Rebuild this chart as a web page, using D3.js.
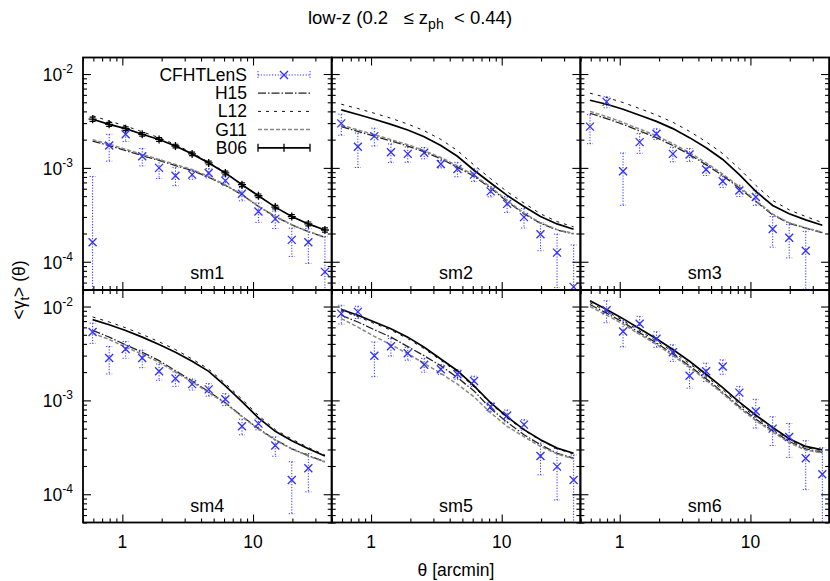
<!DOCTYPE html>
<html>
<head>
<meta charset="utf-8">
<title>low-z tangential shear</title>
<script src="https://cdn.jsdelivr.net/npm/d3@7"></script>
<style>
	html, body { margin: 0; padding: 0; background: white; }
	svg text { font-family: 'Liberation Sans', Arial, sans-serif; fill: black; white-space: pre; }
</style>
</head>
<body>
<svg id="chart" width="830" height="581"></svg>
<script>

// angular bins (arcmin)
var theta = [0.592, 0.793, 1.06, 1.42, 1.91, 2.55, 3.42, 4.58, 6.14, 8.23, 11.0, 14.8, 19.8, 26.5, 35.5];

var panelNames = ["sm1", "sm2", "sm3", "sm4", "sm5", "sm6"];
var xTickVals = [1, 10];
var yTickVals = [1e-2, 1e-3, 1e-4];
var yTickExp = ["-2", "-3", "-4"];

// CFHTLenS measurements and errors
var cfhtVal = [
	[1.61e-4, 1.73e-3, 2.28e-3, 1.33e-3, 1.00e-3, 8.26e-4, 8.47e-4, 8.83e-4, 7.31e-4, 5.31e-4, 3.43e-4, 2.86e-4, 1.71e-4, 1.61e-4, 7.8e-5],
	[2.98e-3, 1.68e-3, 2.18e-3, 1.47e-3, 1.41e-3, 1.45e-3, 1.10e-3, 9.75e-4, 8.47e-4, 5.62e-4, 4.14e-4, 2.99e-4, 1.96e-4, 1.25e-4, 5.4e-5],
	[2.75e-3, 5.05e-3, 9.2e-4, 1.88e-3, 2.31e-3, 1.41e-3, 1.39e-3, 9.6e-4, 7.2e-4, 5.75e-4, 4.89e-4, 2.23e-4, 1.80e-4, 1.31e-4, null],
	[5.35e-3, 2.83e-3, 3.53e-3, 2.83e-3, 2.04e-3, 1.71e-3, 1.49e-3, 1.31e-3, 1.03e-3, 5.30e-4, 5.66e-4, 3.31e-4, 1.42e-4, 1.89e-4, null],
	[8.41e-3, 8.77e-3, 2.99e-3, 3.77e-3, 3.18e-3, 2.40e-3, 2.15e-3, 1.90e-3, 1.61e-3, 8.55e-4, 6.90e-4, 5.52e-4, 2.56e-4, 1.97e-4, 1.42e-4],
	[null, 9.12e-3, 5.42e-3, 6.56e-3, 4.53e-3, 3.26e-3, 1.83e-3, 2.04e-3, 2.30e-3, 1.21e-3, 7.67e-4, 5.0e-4, 4.07e-4, 2.42e-4, 1.63e-4]
];
var cfhtErr = [
	[6.5e-4, 5.5e-4, 3.7e-4, 2.8e-4, 2.3e-4, 1.8e-4, 0.9e-4, 1.0e-4, 0.8e-4, 0.85e-4, 0.8e-4, 0.6e-4, 0.57e-4, 0.65e-4, 1.07e-4],
	[7.5e-4, 6.7e-4, 4.7e-4, 3.3e-4, 2.6e-4, 2.0e-4, 1.0e-4, 1.7e-4, 1.3e-4, 0.7e-4, 0.8e-4, 0.7e-4, 0.65e-4, 0.72e-4, 0.97e-4],
	[9.4e-4, 6.8e-4, 5.2e-4, 4.5e-4, 3.0e-4, 2.5e-4, 2.2e-4, 1.3e-4, 1.0e-4, 0.8e-4, 0.9e-4, 0.8e-4, 0.7e-4, 0.8e-4, null],
	[1.3e-3, 9.2e-4, 7.2e-4, 6.0e-4, 4.0e-4, 3.0e-4, 2.0e-4, 2.0e-4, 1.5e-4, 1.0e-4, 0.8e-4, 0.77e-4, 0.8e-4, 0.83e-4, null],
	[1.9e-3, 1.3e-3, 1.2e-3, 8.0e-4, 5.0e-4, 4.0e-4, 2.5e-4, 2.2e-4, 2.0e-4, 1.0e-4, 1.0e-4, 0.7e-4, 0.95e-4, 1.1e-4, 1.2e-4],
	[null, 2.4e-3, 1.7e-3, 1.3e-3, 8.5e-4, 6.5e-4, 4.8e-4, 4.5e-4, 4.0e-4, 2.0e-4, 2.6e-4, 1.7e-4, 1.6e-4, 1.3e-4, 1.5e-4]
];

// models
var b06 = [
	[3.30e-3, 2.91e-3, 2.62e-3, 2.28e-3, 2.01e-3, 1.71e-3, 1.41e-3, 1.13e-3, 8.84e-4, 6.62e-4, 5.05e-4, 3.82e-4, 3.03e-4, 2.53e-4, 2.18e-4],
	[4.15e-3, 3.70e-3, 3.30e-3, 2.91e-3, 2.53e-3, 2.15e-3, 1.73e-3, 1.33e-3, 9.44e-4, 6.91e-4, 5.09e-4, 3.88e-4, 3.03e-4, 2.53e-4, 2.22e-4],
	[5.26e-3, 4.77e-3, 4.22e-3, 3.64e-3, 3.13e-3, 2.62e-3, 2.10e-3, 1.64e-3, 1.23e-3, 8.47e-4, 5.62e-4, 3.98e-4, 3.24e-4, 2.79e-4, 2.45e-4],
	[7.25e-3, 6.40e-3, 5.56e-3, 4.72e-3, 3.93e-3, 3.26e-3, 2.61e-3, 2.04e-3, 1.43e-3, 9.68e-4, 6.52e-4, 4.68e-4, 3.72e-4, 3.05e-4, 2.56e-4],
	[9.29e-3, 8.07e-3, 6.84e-3, 5.80e-3, 4.72e-3, 3.68e-3, 2.76e-3, 2.07e-3, 1.43e-3, 9.44e-4, 6.67e-4, 4.88e-4, 3.81e-4, 3.10e-4, 2.73e-4],
	[1.15e-2, 9.29e-3, 7.43e-3, 5.80e-3, 4.53e-3, 3.48e-3, 2.61e-3, 1.90e-3, 1.37e-3, 9.59e-4, 6.95e-4, 5.16e-4, 3.90e-4, 3.23e-4, 2.97e-4]
];
// B06 errors, only plotted in sm1
var b06Err = [1.7e-4, 1.4e-4, 1.2e-4, 1.0e-4, 0.9e-4, 0.75e-4, 0.6e-4, 0.5e-4, 0.4e-4, 0.3e-4, 0.22e-4, 0.17e-4, 0.14e-4, 0.12e-4, 0.11e-4];

var l12 = [
	[3.60e-3, 3.15e-3, 2.80e-3, 2.42e-3, 2.10e-3, 1.77e-3, 1.45e-3, 1.15e-3, 8.95e-4, 6.65e-4, 5.05e-4, 3.82e-4, 3.03e-4, 2.52e-4, 2.17e-4],
	[4.77e-3, 4.29e-3, 3.82e-3, 3.38e-3, 2.93e-3, 2.49e-3, 2.01e-3, 1.53e-3, 1.07e-3, 7.67e-4, 5.57e-4, 4.22e-4, 3.24e-4, 2.68e-4, 2.35e-4],
	[6.25e-3, 5.62e-3, 4.97e-3, 4.29e-3, 3.66e-3, 3.06e-3, 2.45e-3, 1.90e-3, 1.42e-3, 9.82e-4, 6.52e-4, 4.50e-4, 3.57e-4, 3.03e-4, 2.61e-4],
	[7.75e-3, 6.84e-3, 5.94e-3, 5.05e-3, 4.21e-3, 3.48e-3, 2.76e-3, 2.15e-3, 1.51e-3, 1.03e-3, 6.90e-4, 4.88e-4, 3.87e-4, 3.15e-4, 2.62e-4],
	[9.0e-3, 7.8e-3, 6.6e-3, 5.6e-3, 4.55e-3, 3.55e-3, 2.67e-3, 2.0e-3, 1.39e-3, 9.2e-4, 6.5e-4, 4.8e-4, 3.75e-4, 3.05e-4, 2.68e-4],
	[1.1e-2, 8.9e-3, 7.1e-3, 5.5e-3, 4.3e-3, 3.3e-3, 2.47e-3, 1.8e-3, 1.3e-3, 9.1e-4, 6.6e-4, 4.95e-4, 3.78e-4, 3.15e-4, 2.9e-4]
];
var h15 = [
	[1.93e-3, 1.73e-3, 1.53e-3, 1.35e-3, 1.20e-3, 1.06e-3, 9.35e-4, 7.94e-4, 6.52e-4, 5.18e-4, 3.88e-4, 3.03e-4, 2.47e-4, 2.09e-4, 1.82e-4],
	[2.75e-3, 2.45e-3, 2.18e-3, 1.93e-3, 1.71e-3, 1.48e-3, 1.25e-3, 1.02e-3, 8.13e-4, 6.10e-4, 4.40e-4, 3.24e-4, 2.57e-4, 2.18e-4, 1.98e-4],
	[3.82e-3, 3.35e-3, 2.91e-3, 2.47e-3, 2.10e-3, 1.73e-3, 1.39e-3, 1.08e-3, 8.26e-4, 6.10e-4, 4.40e-4, 3.16e-4, 2.57e-4, 2.28e-4, 2.04e-4],
	[5.56e-3, 4.72e-3, 3.90e-3, 3.26e-3, 2.65e-3, 2.07e-3, 1.61e-3, 1.24e-3, 9.44e-4, 6.79e-4, 5.00e-4, 3.81e-4, 3.05e-4, 2.58e-4, 2.22e-4],
	[8.07e-3, 6.84e-3, 5.66e-3, 4.72e-3, 3.74e-3, 2.99e-3, 2.34e-3, 1.75e-3, 1.26e-3, 8.20e-4, 5.85e-4, 4.31e-4, 3.37e-4, 2.73e-4, 2.42e-4],
	[1.05e-2, 8.5e-3, 6.8e-3, 5.25e-3, 4.1e-3, 3.12e-3, 2.33e-3, 1.7e-3, 1.22e-3, 8.6e-4, 6.3e-4, 4.75e-4, 3.65e-4, 3.05e-4, 2.8e-4]
];
var g11 = [
	[2.00e-3, 1.79e-3, 1.58e-3, 1.39e-3, 1.23e-3, 1.09e-3, 9.6e-4, 8.1e-4, 6.6e-4, 5.2e-4, 3.9e-4, 3.05e-4, 2.48e-4, 2.10e-4, 1.83e-4],
	[2.85e-3, 2.54e-3, 2.26e-3, 2.00e-3, 1.77e-3, 1.53e-3, 1.29e-3, 1.05e-3, 8.35e-4, 6.25e-4, 4.5e-4, 3.3e-4, 2.6e-4, 2.2e-4, 2.0e-4],
	[4.0e-3, 3.52e-3, 3.05e-3, 2.59e-3, 2.2e-3, 1.81e-3, 1.45e-3, 1.13e-3, 8.6e-4, 6.3e-4, 4.5e-4, 3.22e-4, 2.6e-4, 2.3e-4, 2.06e-4],
	[5.2e-3, 4.45e-3, 3.7e-3, 3.1e-3, 2.55e-3, 2.0e-3, 1.57e-3, 1.21e-3, 9.3e-4, 6.7e-4, 4.95e-4, 3.78e-4, 3.03e-4, 2.56e-4, 2.2e-4],
	[7.43e-3, 6.04e-3, 4.80e-3, 3.93e-3, 3.13e-3, 2.48e-3, 1.94e-3, 1.49e-3, 1.09e-3, 7.36e-4, 5.30e-4, 4.10e-4, 3.23e-4, 2.69e-4, 2.38e-4],
	[1.0e-2, 8.1e-3, 6.5e-3, 5.05e-3, 3.95e-3, 3.0e-3, 2.25e-3, 1.64e-3, 1.18e-3, 8.3e-4, 6.1e-4, 4.6e-4, 3.55e-4, 2.95e-4, 2.75e-4]
];

var blue = "#3030ff";
var fs = 17.5;

// line styles, in legend order
var models = [
	{name: "H15", data: h15, stroke: "#222", width: 1.3, dash: "8,2,1.5,2"},
	{name: "L12", data: l12, stroke: "#111", width: 1, dash: "3,5"},
	{name: "G11", data: g11, stroke: "#888", width: 1.5, dash: "4,2"},
	{name: "B06", data: b06, stroke: "#000", width: 1.7, dash: null}
];

var svg = d3.select("#chart");

var plotLeft = 83, plotTop = 57.5, pw = 248.7, ph = 232.5;

var x = d3.scaleLog().domain([0.5, 40]).range([0, pw]);
var y = d3.scaleLog().domain([5e-5, 1.5e-2]).range([ph, 0]);

var minorX = x.ticks().filter(function(t) { return xTickVals.indexOf(t) < 0; });
var minorY = y.ticks().filter(function(t) { return yTickVals.indexOf(t) < 0; });

function tickAxis(g, axis, vals, len) {
	g.call(axis.tickValues(vals).tickSize(-len).tickFormat(""));
	g.select(".domain").remove();
	g.selectAll(".tick line").attr("stroke", "#000").attr("stroke-width", 1.1);
}

var line = d3.line()
	.defined(function(d) { return d[1] != null; })
	.x(function(d) { return x(d[0]); })
	.y(function(d) { return y(d[1]); });

function xMark(g, cx, cy) {
	var s = 4;
	g.append("path")
		.attr("d", "M" + (cx - s) + "," + (cy - s) + "L" + (cx + s) + "," + (cy + s) +
			"M" + (cx - s) + "," + (cy + s) + "L" + (cx + s) + "," + (cy - s))
		.attr("stroke", blue).attr("stroke-width", 1.3).attr("fill", "none");
}

function errBar(g, cx, yTop, yBot, color, dash, w) {
	g.append("line").attr("x1", cx).attr("x2", cx).attr("y1", yTop).attr("y2", yBot)
		.attr("stroke", color).attr("stroke-width", w).attr("stroke-dasharray", dash);
	[yTop, yBot].forEach(function(yy) {
		g.append("line").attr("x1", cx - 3).attr("x2", cx + 3).attr("y1", yy).attr("y2", yy)
			.attr("stroke", color).attr("stroke-width", w).attr("stroke-dasharray", dash);
	});
}

panelNames.forEach(function(name, p) {
	var col = p % 3, row = Math.floor(p / 3);
	var g = svg.append("g")
		.attr("transform", "translate(" + (plotLeft + col * pw) + "," + (plotTop + row * ph) + ")");

	svg.append("clipPath").attr("id", "clip" + p)
		.append("rect").attr("width", pw).attr("height", ph);

	var plot = g.append("g").attr("clip-path", "url(#clip" + p + ")");

	// CFHTLenS error bars
	theta.forEach(function(t, i) {
		var v = cfhtVal[p][i], e = cfhtErr[p][i];
		if (v == null) return;
		var lo = v - e;
		var yBot = lo > 0 ? y(lo) : ph + 5;
		errBar(plot, x(t), y(v + e), yBot, blue, "1.2,1.6", 1);
	});

	// models
	models.forEach(function(m) {
		plot.append("path")
			.datum(theta.map(function(t, i) { return [t, m.data[p][i]]; }))
			.attr("d", line)
			.attr("fill", "none")
			.attr("stroke", m.stroke)
			.attr("stroke-width", m.width)
			.attr("stroke-dasharray", m.dash);
	});

	// B06 errors and points in sm1
	if (p === 0) {
		theta.forEach(function(t, i) {
			var v = b06[0][i], e = b06Err[i];
			var cx = x(t), cy = y(v);
			errBar(plot, cx, y(v + e), y(v - e), "#000", null, 1.2);
			plot.append("path")
				.attr("d", "M" + (cx - 4) + "," + cy + "H" + (cx + 4) + "M" + cx + "," + (cy - 4) + "V" + (cy + 4))
				.attr("stroke", "#000").attr("stroke-width", 1.3);
		});
	}

	// CFHTLenS points
	theta.forEach(function(t, i) {
		var v = cfhtVal[p][i];
		if (v == null) return;
		xMark(g, x(t), y(v));
	});

	// ticks on all four sides, pointing inward
	tickAxis(g.append("g").attr("transform", "translate(0," + ph + ")"), d3.axisBottom(x), minorX, 4);
	tickAxis(g.append("g").attr("transform", "translate(0," + ph + ")"), d3.axisBottom(x), xTickVals, 8);
	tickAxis(g.append("g"), d3.axisTop(x), minorX, 4);
	tickAxis(g.append("g"), d3.axisTop(x), xTickVals, 8);
	tickAxis(g.append("g"), d3.axisLeft(y), minorY, 4);
	tickAxis(g.append("g"), d3.axisLeft(y), yTickVals, 8);
	tickAxis(g.append("g").attr("transform", "translate(" + pw + ",0)"), d3.axisRight(y), minorY, 4);
	tickAxis(g.append("g").attr("transform", "translate(" + pw + ",0)"), d3.axisRight(y), yTickVals, 8);

	g.append("rect")
		.attr("width", pw).attr("height", ph)
		.attr("fill", "none").attr("stroke", "#000").attr("stroke-width", 1.8);

	g.append("text")
		.attr("x", pw / 2).attr("y", ph - 11)
		.attr("text-anchor", "middle")
		.attr("font-size", 18)
		.text(name);

	// y tick labels on the left column
	if (col === 0) {
		yTickVals.forEach(function(v, k) {
			var tx = g.append("text")
				.attr("x", -10).attr("y", y(v) + 7)
				.attr("text-anchor", "end")
				.attr("font-size", fs);
			tx.append("tspan").text("10");
			tx.append("tspan").attr("dy", -8).attr("font-size", 12).text(yTickExp[k]);
		});
	}
	// x tick labels on the bottom row
	if (row === 1) {
		xTickVals.forEach(function(v) {
			g.append("text")
				.attr("x", x(v)).attr("y", ph + 25)
				.attr("text-anchor", "middle")
				.attr("font-size", fs)
				.text(d3.format("d")(v));
		});
	}
});

// legend (inside sm1)
var legend = svg.append("g");
var legNames = ["CFHTLenS"].concat(models.map(function(m) { return m.name; }));
legNames.forEach(function(n, k) {
	var ly = 75 + k * 18.2;
	legend.append("text")
		.attr("x", 247).attr("y", ly + 6)
		.attr("text-anchor", "end")
		.attr("font-size", fs)
		.text(n);
	if (k === 0) {
		legend.append("line").attr("x1", 258).attr("x2", 310).attr("y1", ly).attr("y2", ly)
			.attr("stroke", blue).attr("stroke-width", 1).attr("stroke-dasharray", "1.2,1.6");
		[258, 310].forEach(function(ex) {
			legend.append("line").attr("x1", ex).attr("x2", ex).attr("y1", ly - 4).attr("y2", ly + 4)
				.attr("stroke", blue).attr("stroke-width", 1).attr("stroke-dasharray", "1.2,1.6");
		});
		xMark(legend, 284, ly);
	} else {
		var m = models[k - 1];
		legend.append("line").attr("x1", 258).attr("x2", 310).attr("y1", ly).attr("y2", ly)
			.attr("stroke", m.stroke).attr("stroke-width", m.width).attr("stroke-dasharray", m.dash);
		if (m.name === "B06") {
			[258, 284, 310].forEach(function(ex) {
				legend.append("line").attr("x1", ex).attr("x2", ex).attr("y1", ly - 4).attr("y2", ly + 4)
					.attr("stroke", "#000").attr("stroke-width", 1.3);
			});
		}
	}
});

// title
var title = svg.append("text")
	.attr("x", 410).attr("y", 24)
	.attr("text-anchor", "middle")
	.attr("font-size", 18.5);
title.append("tspan").text("low-z (0.2   \u2264 z");
title.append("tspan").attr("dy", 5).attr("font-size", 14).text("ph");
title.append("tspan").attr("dy", -5).text("  < 0.44)");

// axis labels
svg.append("text")
	.attr("x", 456).attr("y", 576)
	.attr("text-anchor", "middle")
	.attr("font-size", fs)
	.text("\u03b8 [arcmin]");

var ylab = svg.append("text")
	.attr("transform", "translate(25,290) rotate(-90)")
	.attr("text-anchor", "middle")
	.attr("font-size", fs);
ylab.append("tspan").text("<\u03b3");
ylab.append("tspan").attr("dy", 4).attr("font-size", 13).text("t");
ylab.append("tspan").attr("dy", -4).text("> (\u03b8)");

</script>
</body>
</html>
